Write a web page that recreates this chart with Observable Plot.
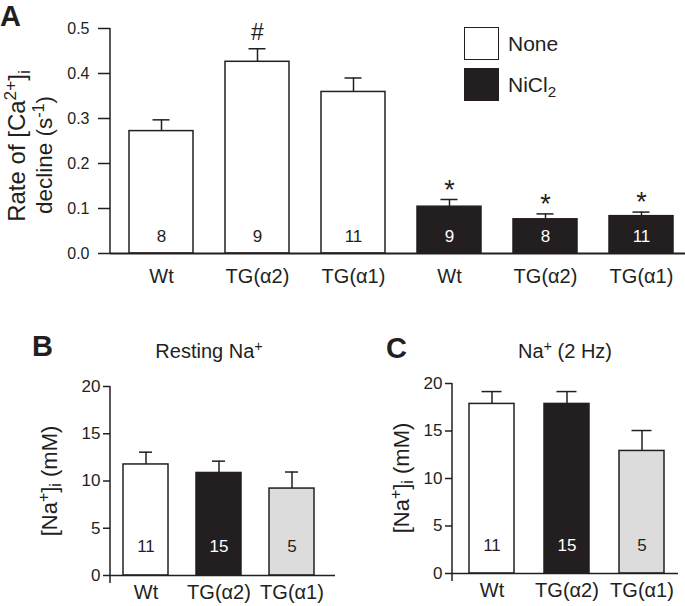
<!DOCTYPE html>
<html>
<head>
<meta charset="utf-8">
<script src="https://cdn.jsdelivr.net/npm/d3@7"></script>
<script src="https://cdn.jsdelivr.net/npm/@observablehq/plot@0.6"></script>
<style>
  html, body { margin: 0; padding: 0; background: #fff; }
  body { font-family: "Liberation Sans", Arial, Helvetica, sans-serif; color: #231f20; }
  #root { position: relative; width: 685px; height: 606px; overflow: hidden; }
  .abs { position: absolute; white-space: nowrap; line-height: 1; }
  .panel { position: absolute; }
  .letter { font-weight: bold; font-size: 29px; }
  .rot { transform: translate(-50%, -50%) rotate(-90deg); }
  .ctr { transform: translate(-50%, -50%); }
  .sup { font-size: 72%; vertical-align: 0.5em; }
  .sub { font-size: 72%; vertical-align: -0.3em; }
  .box { position: absolute; box-sizing: border-box; border: 1.5px solid #231f20; }
</style>
</head>
<body>
<div id="root">
  <div class="abs letter" style="left:0px; top:2px;">A</div>
  <div class="abs letter" style="left:32px; top:332px;">B</div>
  <div class="abs letter" style="left:386px; top:334px;">C</div>

  <div class="abs rot" style="left:18px; top:146px; font-size:24px;">Rate of [Ca<span class="sup">2+</span>]<span class="sub">i</span></div>
  <div class="abs rot" style="left:43px; top:155px; font-size:22.5px;">decline (s<span class="sup">-1</span>)</div>
  <div class="abs rot" style="left:50px; top:481px; font-size:22px;">[Na<span class="sup">+</span>]<span class="sub">i</span> (mM)</div>
  <div class="abs rot" style="left:402px; top:478px; font-size:22px;">[Na<span class="sup">+</span>]<span class="sub">i</span> (mM)</div>

  <div class="abs ctr" style="left:209px; top:350px; font-size:20px;">Resting Na<span class="sup">+</span></div>
  <div class="abs ctr" style="left:565px; top:350px; font-size:20px;">Na<span class="sup">+</span> (2 Hz)</div>

  <div class="box" style="left:464px; top:27px; width:35px; height:33px; background:#fff;"></div>
  <div class="box" style="left:464px; top:68px; width:35px; height:33px; background:#231f20;"></div>
  <div class="abs" style="left:508px; top:33px; font-size:21px;">None</div>
  <div class="abs" style="left:508px; top:74px; font-size:21px;">NiCl<span class="sub">2</span></div>

  <div id="pa" class="panel" style="left:0px; top:0px;"></div>
  <div id="pb" class="panel" style="left:0px; top:300px;"></div>
  <div id="pc" class="panel" style="left:345px; top:300px;"></div>
</div>
<script>
// ---------- Data ----------
// Panel A: rate of [Ca2+]i decline
const catsA   = ["Wt", "TG(α2)", "TG(α1)", "Wt", "TG(α2)", "TG(α1)"];
const treatA  = ["None", "None", "None", "NiCl2", "NiCl2", "NiCl2"];
const rateA   = [0.272, 0.426, 0.359, 0.104, 0.076, 0.083];
const semA    = [0.025, 0.029, 0.031, 0.016, 0.012, 0.009];
const nA      = [8, 9, 11, 9, 8, 11];
const markA   = ["", "#", "", "*", "*", "*"];
const ticksA  = [0, 0.1, 0.2, 0.3, 0.4, 0.5];

// Panels B & C: [Na+]i
const catsNa    = ["Wt", "TG(α2)", "TG(α1)"];
const restingNa = [11.75, 10.85, 9.2];
const restingSem= [1.3, 1.25, 1.75];
const hz2Na     = [17.85, 17.85, 12.9];
const hz2Sem    = [1.3, 1.3, 2.15];
const nNa       = [11, 15, 5];
const ticksNa   = [0, 5, 10, 15, 20];

// ---------- Styling ----------
const INK = "#231f20";
const FONT = '"Liberation Sans", Arial, Helvetica, sans-serif';

// ---------- Panel A ----------
const dataA = catsA.map((c, i) => ({
  key: i + "|" + c, cat: c, treat: treatA[i], v: rateA[i], e: semA[i], n: nA[i], m: markA[i]
}));

const plotA = Plot.plot({
  width: 685, height: 300,
  marginLeft: 110, marginRight: 0, marginTop: 28, marginBottom: 47,
  style: { fontFamily: FONT, fontSize: "16px", color: INK, background: "transparent", overflow: "visible" },
  x: { domain: dataA.map(d => d.key), range: [94, 708], padding: 0.33, axis: null },
  y: { domain: [0, 0.5], axis: null },
  color: { domain: ["None", "NiCl2"], range: ["#ffffff", INK] },
  marks: [
    Plot.ruleX(dataA, { x: "key", y1: "v", y2: d => d.v + d.e, stroke: INK, strokeWidth: 1.5 }),
    Plot.tickY(dataA, { x: "key", y: d => d.v + d.e, insetLeft: 23.5, insetRight: 23.5, stroke: INK, strokeWidth: 1.5 }),
    Plot.barY(dataA, { x: "key", y: "v", fill: "treat", stroke: INK, strokeWidth: 1.5 }),
    Plot.text(dataA, { filter: d => d.treat === "None", x: "key", y: 0, text: "n", dy: -17, fontSize: 17, fill: INK }),
    Plot.text(dataA, { filter: d => d.treat !== "None", x: "key", y: 0, text: "n", dy: -17, fontSize: 17, fill: "#ffffff" }),
    Plot.text(dataA, { filter: d => d.m === "#", x: "key", y: d => d.v + d.e, text: "m", dy: -16, fontSize: 23, fill: INK }),
    Plot.text(dataA, { filter: d => d.m === "*", x: "key", y: d => d.v + d.e, text: "m", dy: -9.5, fontSize: 27, fill: INK }),
    Plot.text(dataA, { x: "key", y: 0, text: "cat", dy: 23, fontSize: 20, fill: INK }),
    Plot.axisY({ ticks: ticksA, tickFormat: d3.format(".1f"), tickSize: 12, tickPadding: 9, fontSize: 16, strokeWidth: 1.5, label: null }),
    Plot.ruleY([0], { stroke: INK, strokeWidth: 2 })
  ]
});
{
  const y = plotA.scale("y");
  d3.select(plotA).append("line")
    .attr("x1", 110).attr("x2", 110)
    .attr("y1", y.apply(0.5)).attr("y2", y.apply(0))
    .attr("stroke", INK).attr("stroke-width", 1.5);
}
document.getElementById("pa").appendChild(plotA);

// ---------- Panels B & C ----------
function naPanel(values, sems, opts) {
  const data = catsNa.map((c, i) => ({ cat: c, v: values[i], e: sems[i], n: nNa[i] }));
  const p = Plot.plot({
    width: opts.width, height: 306,
    marginLeft: opts.ml, marginRight: opts.mr, marginTop: opts.mt, marginBottom: opts.mb,
    style: { fontFamily: FONT, fontSize: "17px", color: INK, background: "transparent", overflow: "visible" },
    x: { domain: catsNa, range: opts.range, padding: opts.padding, axis: null },
    y: { domain: [0, 20], axis: null },
    color: { domain: catsNa, range: ["#ffffff", INK, "#dcdcdc"] },
    marks: [
      Plot.ruleX(data, { x: "cat", y1: "v", y2: d => d.v + d.e, stroke: INK, strokeWidth: 1.5 }),
      Plot.tickY(data, { x: "cat", y: d => d.v + d.e, insetLeft: opts.capInset, insetRight: opts.capInset, stroke: INK, strokeWidth: 1.5 }),
      Plot.barY(data, { x: "cat", y: "v", fill: "cat", stroke: INK, strokeWidth: 1.5 }),
      Plot.text(data, { filter: d => d.cat !== "TG(α2)", x: "cat", y: 0, text: "n", dy: opts.ndy, fontSize: 17, fill: INK }),
      Plot.text(data, { filter: d => d.cat === "TG(α2)", x: "cat", y: 0, text: "n", dy: opts.ndy, fontSize: 17, fill: "#ffffff" }),
      Plot.text(data, { x: "cat", y: 0, text: "cat", dy: 17, fontSize: 20, fill: INK }),
      Plot.axisY({ ticks: ticksNa, tickSize: 7, tickPadding: 3, fontSize: 17, strokeWidth: 1.5, label: null }),
      Plot.ruleY([0], { stroke: INK, strokeWidth: 1.5 })
    ]
  });
  const y = p.scale("y");
  d3.select(p).append("line")
    .attr("x1", opts.ml).attr("x2", opts.ml)
    .attr("y1", y.apply(20)).attr("y2", y.apply(0) + 8)
    .attr("stroke", INK).attr("stroke-width", 1.5);
  return p;
}

document.getElementById("pb").appendChild(naPanel(restingNa, restingSem, {
  width: 345, ml: 110, mr: 10, mt: 86, mb: 31, range: [94, 342.5], padding: 0.38, capInset: 16, ndy: -29
}));
document.getElementById("pc").appendChild(naPanel(hz2Na, hz2Sem, {
  width: 340, ml: 107, mr: 7, mt: 83, mb: 33, range: [92.8, 349.5], padding: 0.4, capInset: 12.5, ndy: -28
}));
</script>
</body>
</html>
